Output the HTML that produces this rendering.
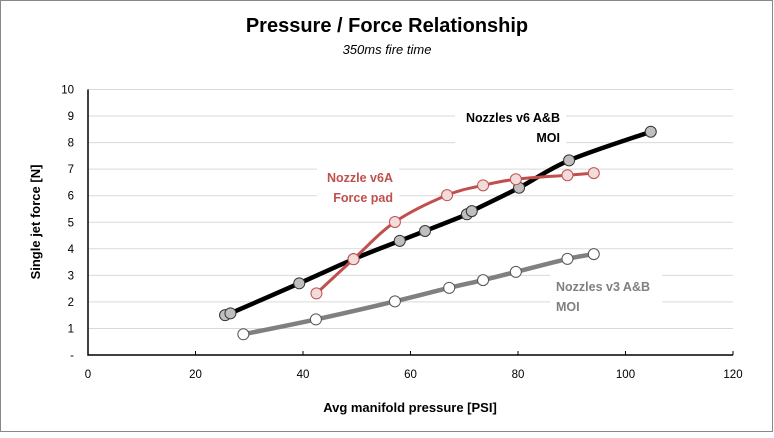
<!DOCTYPE html>
<html><head><meta charset="utf-8"><style>
body{margin:0;background:#fff;font-family:"Liberation Sans",sans-serif}
svg text{font-family:"Liberation Sans",sans-serif}
</style></head><body>
<svg id="chart" width="774" height="433" xmlns="http://www.w3.org/2000/svg">
<rect x="0.5" y="0.5" width="772" height="431" fill="#fff" stroke="#888"/>
<text x="387" y="32" text-anchor="middle" font-size="20" font-weight="bold">Pressure / Force Relationship</text>
<text x="387" y="54" text-anchor="middle" font-size="13" font-style="italic">350ms fire time</text>
<g id="grid"></g>
<g id="axes"></g>
<g id="labels"></g>
<g id="series"></g>
<text transform="translate(40,222) rotate(-90)" text-anchor="middle" font-size="13" font-weight="bold">Single jet force [N]</text>
<text x="410" y="412" text-anchor="middle" font-size="13" font-weight="bold">Avg manifold pressure [PSI]</text>
</svg>
<script>
const xTicks=[0,20,40,60,80,100,120];
const yTicks=[0,1,2,3,4,5,6,7,8,9,10];
const yTickLabels=["-","1","2","3","4","5","6","7","8","9","10"];
const v6X=[25.5,26.5,39.3,49.4,58.0,62.7,70.5,71.4,80.2,89.5,104.7];
const v6Y=[1.50,1.57,2.70,3.61,4.30,4.67,5.30,5.42,6.30,7.33,8.41];
const padX=[42.5,49.4,57.1,66.8,73.5,79.6,89.2,94.1];
const padY=[2.32,3.61,5.01,6.02,6.39,6.62,6.77,6.85];
const v3X=[28.9,42.4,57.1,67.2,73.5,79.6,89.2,94.1];
const v3Y=[0.78,1.34,2.02,2.53,2.82,3.13,3.62,3.80];
const NS="http://www.w3.org/2000/svg";
const L=88,R=733,T=89.5,B=355;
const sx=v=>L+(v-0)/120*(R-L);
const sy=v=>B-(v-0)/10*(B-T);
function mk(tag,attrs,parent){const e=document.createElementNS(NS,tag);for(const k in attrs)e.setAttribute(k,attrs[k]);parent.appendChild(e);return e;}
const grid=document.getElementById('grid'),axes=document.getElementById('axes'),labels=document.getElementById('labels'),series=document.getElementById('series');
yTicks.forEach((t,i)=>{
  if(t>0){const g=mk('line',{x1:L,x2:R,y1:sy(t),y2:sy(t),stroke:'#d9d9d9','stroke-width':1},grid);
  
  }
  const tx=mk('text',{x:74,y:sy(t)+4,'text-anchor':'end','font-size':11.5},axes);
  tx.textContent=yTickLabels[i];
  
  
});
xTicks.forEach(t=>{
  const tk=mk('line',{x1:sx(t),x2:sx(t),y1:B,y2:B-4,stroke:'#000'},axes);
  
  
  const tx=mk('text',{x:sx(t),y:B+23,'text-anchor':'middle','font-size':11.5},axes);
  tx.textContent=t;
  
  
});
const ax=mk('path',{d:`M${L},${T} V${B} H${R}`,fill:'none',stroke:'#000','stroke-width':1.5},axes);


function lbl(x,y,w,h,lines,color,name,anchor){
  const r=mk('rect',{x:x,y:y,width:w,height:h,fill:'#fff'},labels);
  
  
  lines.forEach((s,i)=>{const t=mk('text',{x:anchor==='start'?x+6:x+w-6,y:y+18+i*20,'text-anchor':anchor||'end','font-size':12.5,'font-weight':'bold',fill:color},labels);t.textContent=s;
  
  });
}
lbl(455,104,111,42,["Nozzles v6 A&B","MOI"],"#000","label-v6");
lbl(317,164,82,42,["Nozzle v6A","Force pad"],"#c0504d","label-forcepad");
lbl(550,273,112,42,["Nozzles v3 A&B","MOI"],"#808080","label-v3","start");
function smooth(xs,ys){const p=xs.map((x,i)=>[sx(x),sy(ys[i])]);let d=`M${p[0][0]},${p[0][1]}`;
  for(let i=0;i<p.length-1;i++){const p0=p[i-1]||p[i],p1=p[i],p2=p[i+1],p3=p[i+2]||p2;
  const c1=[p1[0]+(p2[0]-p0[0])/6,p1[1]+(p2[1]-p0[1])/6],c2=[p2[0]-(p3[0]-p1[0])/6,p2[1]-(p3[1]-p1[1])/6];
  d+=` C${c1[0]},${c1[1]} ${c2[0]},${c2[1]} ${p2[0]},${p2[1]}`;}return d;}
function draw(xs,ys,stroke,w,fill,mstroke,name){
  const l=mk('path',{d:smooth(xs,ys),fill:'none',stroke:stroke,'stroke-width':w},series);
  
  
  xs.forEach((x,i)=>{const c=mk('circle',{cx:sx(x),cy:sy(ys[i]),r:5.5,fill:fill,stroke:mstroke,'stroke-width':1},series);
  
  });
}
draw(v3X,v3Y,'#808080',4.5,'#fff','#555','v3');
draw(v6X,v6Y,'#000',4.5,'#bfbfbf','#333','v6');
draw(padX,padY,'#c0504d',3,'#f2dcdb','#c0504d','forcepad');
</script>
</body></html>
